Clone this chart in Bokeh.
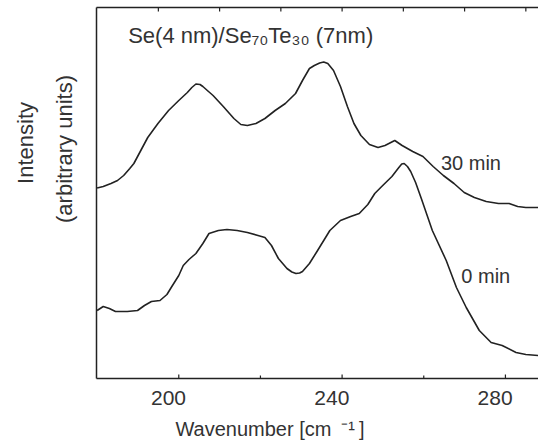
from bokeh.plotting import figure
from bokeh.models import Range1d, FixedTicker, LinearAxis, Label, Title
from bokeh.embed import file_html
from bokeh.resources import INLINE

# ---- data ----
wn_30 = [180.0, 181.5, 183.4, 185.0, 186.5, 188.0, 189.0, 190.7, 192.4, 194.9,
         197.5, 200.0, 202.1, 203.2, 204.2, 205.2, 205.9, 207.0, 208.4, 210.9,
         213.5, 215.2, 216.8, 218.9, 221.1, 223.6, 226.1, 228.6, 230.3, 232.0,
         233.2, 234.5, 235.5, 236.5, 237.9, 239.6, 241.3, 242.9, 244.6, 246.7,
         248.8, 250.5, 252.9, 254.7, 257.3, 259.8, 262.3, 264.8, 267.4, 269.9,
         272.4, 275.3, 278.3, 280.9, 283.0, 285.0, 288.1]
int_30 = [190.5, 192, 195, 198, 203, 210, 215, 228, 241, 255,
          268, 278, 286, 291, 294.5, 294, 292, 288, 283, 272,
          260, 254, 253, 255, 260, 268, 275, 285, 298, 310,
          313, 315.5, 316.5, 315, 308, 292, 272, 255, 243, 234,
          231, 233, 238, 233, 227, 222, 212, 203, 195, 186,
          181, 177, 175, 175, 172, 171, 171]

wn_0 = [180.0, 181.5, 183.0, 184.5, 187.4, 189.9, 191.6, 193.3, 195.4, 197.1,
        198.3, 200.0, 201.1, 202.5, 204.2, 205.9, 207.4, 209.7, 211.8, 214.3,
        216.8, 219.4, 221.1, 222.7, 224.4, 226.5, 227.7, 228.7, 229.6, 230.3,
        232.0, 234.0, 237.0, 239.6, 242.1, 244.2, 246.3, 248.0, 249.7, 252.2,
        253.9, 254.6, 255.2, 256.0, 256.8, 258.0, 259.4, 262.1, 265.5, 268.0,
        270.4, 273.6, 276.5, 279.2, 282.6, 285.0, 288.1]
int_0 = [68, 72, 70, 67, 67, 68, 73, 77, 78, 84,
         92, 103, 113, 119, 125, 135, 145, 148, 149, 148,
         146, 143, 141, 133, 120, 110, 106.5, 105, 105.5, 107,
         115, 128, 148, 158, 162, 165, 174, 185, 192, 202,
         211, 214.5, 215, 212, 207, 196, 180, 148, 118, 91,
         71, 48, 36, 33, 26, 24, 23]

x_major_ticks = [200, 240, 280]
x_minor_ticks = [220, 260]
top_ticks = [195, 210, 225, 240, 255, 270, 285]

INK = "#222222"
TXT = "#333333"
FONT = "Liberation Sans"

X0, X1 = 179.85, 288.1
Y0, Y1 = 0, 371
LABEL_SHIFT = 2.52   # the reference prints its tick labels ~10 px left of the ticks

p = figure(width=538, height=447, output_backend="svg", toolbar_location=None,
           x_range=Range1d(X0, X1), y_range=Range1d(Y0, Y1),
           min_border_left=96, min_border_right=0, min_border_top=7,
           min_border_bottom=69)
p.outline_line_color = None
p.grid.visible = False
p.background_fill_color = "white"
p.border_fill_color = "white"
p.extra_x_ranges = {"labels": Range1d(X0 + LABEL_SHIFT, X1 + LABEL_SHIFT)}

# bottom axis: line + labels (ticks drawn separately below)
xa = p.xaxis[0]
xa.x_range_name = "labels"
xa.ticker = FixedTicker(ticks=x_major_ticks, minor_ticks=[])
xa.major_tick_in = 0
xa.major_tick_out = 0
xa.minor_tick_in = 0
xa.minor_tick_out = 0
xa.major_tick_line_color = None
xa.minor_tick_line_color = None
xa.major_label_text_font_size = "21px"
xa.major_label_text_font = FONT
xa.major_label_text_color = TXT
xa.major_label_standoff = 12
xa.axis_line_width = 1.5
xa.axis_line_color = INK
xa.axis_label = ("Wavenumber [cm\u2002\u207b\u00b9\u2009]"
                 + "\u2003" * 4 + "\u2002" + "\u2005")
xa.axis_label_text_font = FONT
xa.axis_label_text_font_size = "20px"
xa.axis_label_text_font_style = "normal"
xa.axis_label_text_color = TXT
xa.axis_label_standoff = 10

# left axis: line + "(arbitrary units)" label
ya = p.yaxis[0]
ya.ticker = FixedTicker(ticks=[], minor_ticks=[])
ya.major_tick_in = 0
ya.major_tick_out = 0
ya.minor_tick_out = 0
ya.major_label_standoff = 0
ya.major_tick_line_color = None
ya.minor_tick_line_color = None
ya.axis_line_width = 1.5
ya.axis_line_color = INK
ya.axis_label = "\u2003" * 4 + "(arbitrary units)"
ya.axis_label_text_font = FONT
ya.axis_label_text_font_size = "22px"
ya.axis_label_text_font_style = "normal"
ya.axis_label_text_color = TXT
ya.axis_label_standoff = 20

# top axis: line only
top = LinearAxis(ticker=FixedTicker(ticks=[], minor_ticks=[]),
                 major_tick_in=0, major_tick_out=0, major_label_standoff=0,
                 minor_tick_in=0, minor_tick_out=0,
                 axis_line_width=1.5, axis_line_color=INK)
p.add_layout(top, "above")

# inward ticks
p.segment(x0=x_major_ticks, y0=[Y0] * 3, x1=x_major_ticks, y1=[Y0 + 4] * 3,
          line_color=INK, line_width=1.2)
p.segment(x0=x_minor_ticks, y0=[Y0] * 2, x1=x_minor_ticks, y1=[Y0 + 3] * 2,
          line_color=INK, line_width=1.2)
p.segment(x0=top_ticks, y0=[Y1] * 7, x1=top_ticks, y1=[Y1 - 4] * 7,
          line_color=INK, line_width=1.2)

p.line(wn_30, int_30, line_color=INK, line_width=1.6, line_join="round")
p.line(wn_0, int_0, line_color=INK, line_width=1.6, line_join="round")

def lab(x, y, text, size):
    p.add_layout(Label(x=x, y=y, text=text, text_font=FONT, text_font_size=size,
                       text_color=TXT, text_align="left",
                       text_baseline="alphabetic"))

lab(187.6, 343, "Se(4 nm)/Se\u2087\u2080Te\u2083\u2080 (7nm)", "22px")
lab(264.2, 216, "30 min", "20px")
lab(269.2, 103, "0 min", "20px")

p.add_layout(Title(text="Intensity", align="right", offset=94.5, standoff=19,
                   vertical_align="middle", text_font=FONT,
                   text_font_size="22px", text_font_style="normal",
                   text_color=TXT), "left")

open("out.html", "w").write(file_html(p, INLINE))
